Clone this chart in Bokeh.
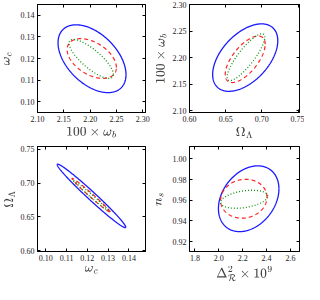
import numpy as np
from bokeh.plotting import figure
from bokeh.layouts import column, row
from bokeh.models import (Range1d, FixedTicker, PrintfTickFormatter, LinearAxis,
                          ColumnDataSource, CustomLabelingPolicy)
from bokeh.embed import file_html
from bokeh.resources import INLINE

# ---- data ----
# ellipse parameters: [centre x, centre y, half-extent x, half-extent y, correlation]
p1_xticks = [2.10, 2.15, 2.20, 2.25, 2.30]
p1_yticks = [0.10, 0.11, 0.12, 0.13, 0.14]
p1_blue = [2.2035, 0.1199, 0.0645, 0.0157, -0.47]
p1_red = [2.203, 0.1200, 0.0467, 0.0092, -0.45]
p1_green = [2.202, 0.1198, 0.0420, 0.0090, -0.80]

p2_xticks = [0.60, 0.65, 0.70, 0.75]
p2_yticks = [2.10, 2.15, 2.20, 2.25, 2.30]
p2_blue = [0.677, 2.2002, 0.0450, 0.0634, 0.50]
p2_red = [0.677, 2.1970, 0.0276, 0.0437, 0.65]
p2_green = [0.678, 2.2010, 0.0260, 0.0440, 0.85]

p3_xticks = [0.10, 0.11, 0.12, 0.13, 0.14]
p3_yticks = [0.60, 0.65, 0.70, 0.75]
p3_blue = [0.1220, 0.6810, 0.0165, 0.0470, -0.985]
p3_red = [0.1218, 0.6820, 0.0092, 0.0250, -0.990]
p3_green = [0.1215, 0.6820, 0.0085, 0.0225, -0.993]

p4_xticks = [1.8, 2.0, 2.2, 2.4, 2.6]
p4_yticks = [0.92, 0.94, 0.96, 0.98, 1.00]
p4_blue = [2.250, 0.9615, 0.253, 0.0318, 0.30]
p4_red = [2.209, 0.9615, 0.194, 0.0188, 0.08]
p4_green = [2.212, 0.9610, 0.197, 0.0087, 0.35]


def contour(par, n=300):
    cx, cy, wx, wy, rho = par
    t = np.linspace(0, 2 * np.pi, n)
    x = cx + wx * np.cos(t)
    y = cy + wy * (rho * np.cos(t) + np.sqrt(1 - rho ** 2) * np.sin(t))
    return ColumnDataSource(dict(x=x, y=y))


def panel(xr, yr, xt, yt, xfmt, yfmt, xlab, ylab, ells, w, h, bl, br, bt, bb):
    p = figure(width=w, height=h, x_range=Range1d(*xr), y_range=Range1d(*yr),
               output_backend="svg", toolbar_location=None,
               min_border_left=bl, min_border_right=br, min_border_top=bt, min_border_bottom=bb)
    p.grid.visible = False
    p.outline_line_color = "black"
    p.outline_line_width = 1
    p.background_fill_color = "white"
    p.border_fill_color = "white"
    for ax, ticks, fmt in ((p.xaxis[0], xt, xfmt), (p.yaxis[0], yt, yfmt)):
        ax.ticker = FixedTicker(ticks=ticks, minor_ticks=[])
        ax.formatter = PrintfTickFormatter(format=fmt)
        ax.major_tick_in = 3
        ax.major_tick_out = 0
        ax.minor_tick_in = 0
        ax.minor_tick_out = 0
        ax.major_label_text_font = "Liberation Serif"
        ax.major_label_text_font_size = "8px"
        ax.major_label_text_color = "#222222"
        ax.major_label_standoff = 3
        ax.axis_label_text_font_size = "11px"
        ax.axis_label_standoff = 2
        ax.axis_line_color = "black"
    p.xaxis[0].axis_label = xlab
    p.yaxis[0].axis_label = ylab
    for loc, ticks in (("above", xt), ("right", yt)):
        a = LinearAxis(ticker=FixedTicker(ticks=ticks, minor_ticks=[]),
                       major_tick_in=3, major_tick_out=0,
                       minor_tick_in=0, minor_tick_out=0,
                       major_label_text_font_size="1px", major_label_standoff=0,
                       major_label_policy=CustomLabelingPolicy(code="""
                           for (const i of indices) indices.unset(i)
                           return indices
                       """),
                       axis_line_color="black")
        p.add_layout(a, loc)
    blue, red, green = ells
    p.line("x", "y", source=contour(blue), line_color="#1a1aff", line_width=1.3)
    p.line("x", "y", source=contour(red), line_color="#ff2020", line_width=1.2, line_dash="4 3")
    p.line("x", "y", source=contour(green), line_color="#109010", line_width=1.3, line_dash="1 2")
    return p


p1 = panel((2.10, 2.305), (0.095, 0.145), p1_xticks, p1_yticks, "%.2f", "%.2f",
           r"$$100\times\omega_b$$", r"$$\omega_c$$", (p1_blue, p1_red, p1_green),
           152, 142, 29, 7, 1, 30)
p2 = panel((0.60, 0.752), (2.097, 2.30), p2_xticks, p2_yticks, "%.2f", "%.2f",
           r"$$\Omega_\Lambda$$", r"$$100\times\omega_b$$", (p2_blue, p2_red, p2_green),
           152, 142, 37, 1, 1, 30)
p3 = panel((0.096, 0.148), (0.5986, 0.7542), p3_xticks, p3_yticks, "%.2f", "%.2f",
           r"$$\omega_c$$", r"$$\Omega_\Lambda$$", (p3_blue, p3_red, p3_green),
           152, 142, 29, 7, 4, 27)
p4 = panel((1.755, 2.675), (0.9105, 1.012), p4_xticks, p4_yticks, "%.1f", "%.2f",
           r"$$\Delta^2_{\mathcal{R}}\times 10^9$$", r"$$n_s$$", (p4_blue, p4_red, p4_green),
           152, 142, 34, 1, 3, 27)

layout = column(row(p1, p2), row(p3, p4))
open("out.html", "w").write(file_html(layout, INLINE))
